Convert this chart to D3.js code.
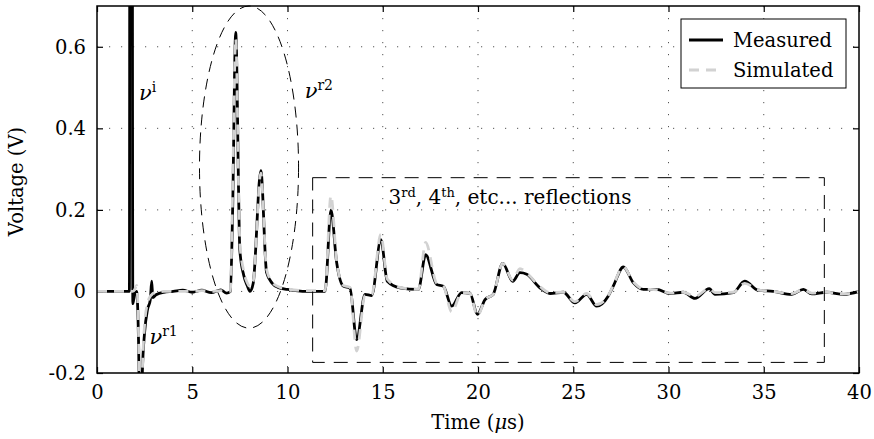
<!DOCTYPE html>
<html>
<head>
<meta charset="utf-8">
<script src="https://cdn.jsdelivr.net/npm/d3@7"></script>
<style>
  html, body { margin: 0; padding: 0; background: #fff; }
  svg { display: block; }
  text { font-family: "DejaVu Serif", "Liberation Serif", serif; fill: #000; }
</style>
</head>
<body>
<svg id="chart" width="874" height="439"></svg>
<script>
// ---- Data ----
const time = [0, 1.0, 1.7, 1.75, 1.82, 1.88, 1.98, 2.08, 2.18, 2.28, 2.38, 2.5, 2.65, 2.8, 2.87, 2.93, 3.1, 3.5,
  4.0, 4.5, 5.0, 5.5, 6.0, 6.5, 6.8, 7.0, 7.12, 7.28, 7.5, 7.7, 7.88, 8.03, 8.2, 8.6, 8.9, 9.2, 9.5, 10.0, 11.0,
  11.97, 12.28, 12.58, 12.93, 13.28, 13.63, 14.07, 14.42, 14.9, 15.24, 15.9, 16.87, 17.25, 17.83, 18.18, 18.62,
  19.14, 19.58, 19.97, 20.37, 20.8, 21.3, 21.82, 22.2, 22.56, 23.25, 23.78, 24.48, 25.09, 25.7, 26.23, 26.84,
  27.1, 27.63, 28.16, 28.68, 29.38, 30.08, 30.78, 31.39, 32.14, 32.44, 33.4, 34.0, 34.7, 35.5, 36.47, 37.08,
  37.52, 38.3, 39.2, 40.0];
const measured = [0, 0, 0, 3.0, 3.0, -0.03, -0.005, 0.0, -0.12, -0.45, -0.2, -0.1, -0.045, -0.02, 0.025, -0.015, -0.008, -0.002,
  0, 0.003, -0.002, 0.003, -0.003, 0.004, -0.004, 0.0, 0.2, 0.635, 0.1, 0.04, 0.015, 0.0, 0.02, 0.296, 0.047, 0.02, 0.01, 0.005, 0.0,
  0.0, 0.2, 0.071, 0.013, 0.008, -0.118, -0.007, -0.01, 0.127, 0.025, 0.009, 0.005, 0.09, 0.017, 0.013, -0.036,
  -0.003, -0.005, -0.056, -0.02, -0.007, 0.069, 0.025, 0.046, 0.042, 0.009, -0.005, -0.002, -0.028, -0.007, -0.036, -0.011,
  0.013, 0.06, 0.021, 0.005, 0.005, -0.005, -0.002, -0.017, 0.007, -0.007, -0.003, 0.025, 0.003, 0, -0.007, 0.005,
  -0.006, -0.002, -0.007, 0];
const simulated = [0, 0, 0, 0, 0, 0, 0.005, 0.015, -0.1, -0.45, -0.2, -0.08, -0.03, -0.012, -0.008, -0.005, -0.003, 0,
  0, 0, 0, 0.002, 0, 0.002, 0, 0.0, 0.25, 0.62, 0.12, 0.05, 0.022, 0.012, 0.025, 0.29, 0.055, 0.022, 0.012, 0.006, 0.002,
  0.002, 0.235, 0.075, 0.015, 0.01, -0.146, -0.01, -0.008, 0.14, 0.03, 0.01, 0.005, 0.12, 0.02, 0.013, -0.05,
  -0.003, -0.005, -0.06, -0.02, -0.007, 0.069, 0.028, 0.056, 0.045, 0.012, -0.003, -0.002, -0.025, -0.005, -0.032, -0.01,
  0.015, 0.06, 0.023, 0.006, 0.004, -0.004, -0.002, -0.012, 0.007, -0.003, -0.002, 0.02, 0.004, 0, -0.005, 0.005,
  -0.004, -0.002, -0.006, 0];
const xTicks = [0, 5, 10, 15, 20, 25, 30, 35, 40];
const yTicks = [-0.2, 0, 0.2, 0.4, 0.6];
const yTickLabels = ["-0.2", "0", "0.2", "0.4", "0.6"];
const seriesNames = ["Measured", "Simulated"];

// ---- Layout ----
const W = 874, H = 439;
const margin = { left: 97, right: 15, top: 6, bottom: 66 };
const iw = W - margin.left - margin.right;
const ih = H - margin.top - margin.bottom;
const FS = "19.5px";

const svg = d3.select("#chart");
const x = d3.scaleLinear().domain([0, 40]).range([0, iw]);
const y = d3.scaleLinear().domain([-0.2, 0.7]).range([ih, 0]);

const g = svg.append("g").attr("transform", `translate(${margin.left},${margin.top})`);

svg.append("defs").append("clipPath").attr("id", "clip")
  .append("rect").attr("x", 0).attr("y", 0).attr("width", iw).attr("height", ih);

// grid
const grid = g.append("g");
grid.selectAll("line.gx").data(xTicks.filter(t => t > 0 && t < 40)).join("line")
  .attr("x1", d => x(d)).attr("x2", d => x(d)).attr("y1", 0).attr("y2", ih)
  .attr("stroke", "#555").attr("stroke-width", 1).attr("stroke-dasharray", "1.2,10.8");
grid.selectAll("line.gy").data(yTicks.filter(t => t > -0.2)).join("line")
  .attr("x1", 0).attr("x2", iw).attr("y1", d => y(d)).attr("y2", d => y(d))
  .attr("stroke", "#555").attr("stroke-width", 1).attr("stroke-dasharray", "1.2,10.8");

// axes
const tickLen = 6;
const xAxisB = d3.axisBottom(x).tickValues(xTicks).tickSizeInner(-tickLen).tickSizeOuter(0).tickPadding(12).tickFormat(d3.format("d"));
const xAxisT = d3.axisTop(x).tickValues(xTicks).tickSizeInner(-tickLen).tickSizeOuter(0).tickFormat("");
const yAxisL = d3.axisLeft(y).tickValues(yTicks).tickSizeInner(-tickLen).tickSizeOuter(0).tickPadding(11)
  .tickFormat((d, i) => yTickLabels[i]);
const yAxisR = d3.axisRight(y).tickValues(yTicks).tickSizeInner(-tickLen).tickSizeOuter(0).tickFormat("");

function styleAxis(sel) {
  sel.select(".domain").remove();
  sel.selectAll(".tick line").attr("stroke", "#000").attr("stroke-width", 1.2);
  sel.selectAll(".tick text").style("font-family", '"DejaVu Serif", serif').style("font-size", FS).attr("fill", "#000");
}
g.append("g").attr("transform", `translate(0,${ih})`).call(xAxisB).call(styleAxis);
g.append("g").call(xAxisT).call(styleAxis);
g.append("g").call(yAxisL).call(styleAxis);
g.append("g").attr("transform", `translate(${iw},0)`).call(yAxisR).call(styleAxis);

// lines
const pts = (vals) => time.map((t, i) => [t, vals[i]]);
const line = d3.line().x(d => x(d[0])).y(d => y(d[1])).curve(d3.curveMonotoneX);
const plot = g.append("g").attr("clip-path", "url(#clip)");
plot.append("path").datum(pts(measured)).attr("d", line)
  .attr("fill", "none").attr("stroke", "#000").attr("stroke-width", 2.8).attr("stroke-linejoin", "round");
plot.append("path").datum(pts(simulated)).attr("d", line)
  .attr("fill", "none").attr("stroke", "#d2d2d2").attr("stroke-width", 2.8).attr("stroke-dasharray", "10,7");

// annotations: ellipse and rectangle
const ell = { t: 7.98, v: 0.305, rt: 2.6, rv: 0.395 };
g.append("ellipse")
  .attr("cx", x(ell.t)).attr("cy", y(ell.v))
  .attr("rx", x(ell.rt) - x(0)).attr("ry", y(0) - y(ell.rv))
  .attr("fill", "none").attr("stroke", "#000").attr("stroke-width", 1).attr("stroke-dasharray", "11,7");
const box = { t0: 11.32, t1: 38.18, v0: -0.174, v1: 0.279 };
g.append("rect")
  .attr("x", x(box.t0)).attr("y", y(box.v1))
  .attr("width", x(box.t1) - x(box.t0)).attr("height", y(box.v0) - y(box.v1))
  .attr("fill", "none").attr("stroke", "#000").attr("stroke-width", 1).attr("stroke-dasharray", "14,9");

function nuLabel(tx, vy, sup) {
  const t = g.append("text").attr("x", x(tx)).attr("y", y(vy)).style("font-size", "21px");
  t.append("tspan").text("ν").style("font-style", "italic");
  t.append("tspan").text(sup).attr("dy", -8).style("font-size", "14px");
}
nuLabel(2.2, 0.47, "i");
nuLabel(2.75, -0.13, "r1");
nuLabel(10.9, 0.475, "r2");

const refl = g.append("text").attr("x", x(15.3)).attr("y", y(0.215)).style("font-size", "20px");
refl.append("tspan").text("3");
refl.append("tspan").text("rd").attr("dy", -7).style("font-size", "13px");
refl.append("tspan").text(", 4").attr("dy", 7);
refl.append("tspan").text("th").attr("dy", -7).style("font-size", "13px");
refl.append("tspan").text(", etc... reflections").attr("dy", 7);

// border
g.append("rect").attr("x", 0).attr("y", 0).attr("width", iw).attr("height", ih)
  .attr("fill", "none").attr("stroke", "#000").attr("stroke-width", 1.5);

// legend
const lg = svg.append("g").attr("transform", "translate(681,19)");
lg.append("rect").attr("x", 0).attr("y", 0).attr("width", 165).attr("height", 69)
  .attr("fill", "#fff").attr("stroke", "#000").attr("stroke-width", 1);
const legendStyles = [
  { stroke: "#000", dash: null },
  { stroke: "#d2d2d2", dash: "10,7" }
];
seriesNames.forEach((name, i) => {
  const yy = 21 + i * 30;
  lg.append("line").attr("x1", 8).attr("x2", 42).attr("y1", yy).attr("y2", yy)
    .attr("stroke", legendStyles[i].stroke).attr("stroke-width", 2.8)
    .attr("stroke-dasharray", legendStyles[i].dash);
  lg.append("text").attr("x", 52).attr("y", yy).attr("dy", "0.35em").style("font-size", FS).text(name);
});

// axis titles
svg.append("text").attr("x", margin.left + iw / 2).attr("y", 429).attr("text-anchor", "middle")
  .style("font-size", FS).html('Time (<tspan font-style="italic">μ</tspan>s)');
svg.append("text").attr("transform", `translate(23,${margin.top + ih / 2 - 8}) rotate(-90)`)
  .attr("text-anchor", "middle").style("font-size", FS).text("Voltage (V)");
</script>
</body>
</html>
